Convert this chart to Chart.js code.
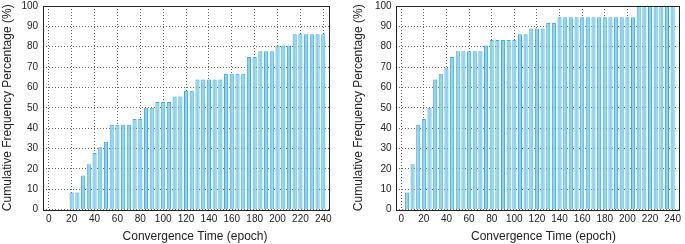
<!DOCTYPE html>
<html>
<head>
<meta charset="utf-8">
<script src="https://cdn.jsdelivr.net/npm/chart.js@4.4.1/dist/chart.umd.min.js"></script>
<style>
  html, body { margin: 0; padding: 0; background: #fff; }
  #wrap { position: relative; width: 685px; height: 244px; }
  .box { position: absolute; top: 0; height: 244px; }
  #b1 { left: 0; width: 340px; }
  #b2 { left: 340px; width: 345px; }
</style>
</head>
<body>
<div id="wrap">
  <div class="box" id="b1"><canvas id="c1"></canvas></div>
  <div class="box" id="b2"><canvas id="c2"></canvas></div>
</div>
<script>
// Left panel: convergence epochs and cumulative frequency (%)
const leftEpochs = [20,25,30,35,40,45,50,55,60,65,70,75,80,85,90,95,100,105,110,115,120,125,130,135,140,145,150,155,160,165,170,175,180,185,190,195,200,205,210,215,220,225,230,235,240];
const leftValues = [8.33,8.33,16.67,22.22,27.78,30.56,33.33,41.67,41.67,41.67,41.67,44.44,44.44,50,50,52.78,52.78,52.78,55.56,55.56,58.33,58.33,63.89,63.89,63.89,63.89,63.89,66.67,66.67,66.67,66.67,75,75,77.78,77.78,77.78,80.56,80.56,80.56,86.11,86.11,86.11,86.11,86.11,86.11];

// Right panel
const rightEpochs = [5,10,15,20,25,30,35,40,45,50,55,60,65,70,75,80,85,90,95,100,105,110,115,120,125,130,135,140,145,150,155,160,165,170,175,180,185,190,195,200,205,210,215,220,225,230,235,240];
const rightValues = [8.33,22.22,41.67,44.44,50,63.89,66.67,69.44,75,77.78,77.78,77.78,77.78,77.78,80.56,83.33,83.33,83.33,83.33,83.33,86.11,86.11,88.89,88.89,88.89,91.67,91.67,94.44,94.44,94.44,94.44,94.44,94.44,94.44,94.44,94.44,94.44,94.44,94.44,94.44,94.44,100,100,100,100,100,100,100];

const xTickValues = [0,20,40,60,80,100,120,140,160,180,200,220,240];
const xTitle = 'Convergence Time (epoch)';
const yTitle = 'Cumulative Frequency Percentage (%)';

const FONT = '"Liberation Sans", Arial, Helvetica, sans-serif';

const framePlugin = {
  id: 'frame',
  afterDatasetsDraw(chart) {
    const a = chart.chartArea, ctx = chart.ctx;
    ctx.save();
    ctx.strokeStyle = '#222';
    ctx.lineWidth = 1;
    ctx.strokeRect(Math.round(a.left) + 0.5, Math.round(a.top) + 0.5,
                   Math.round(a.right - a.left), Math.round(a.bottom - a.top));
    ctx.restore();
  }
};

// x-axis title, drawn slightly right of the plot centre as in the original
const xTitlePlugin = {
  id: 'xTitle',
  afterDraw(chart, args, opts) {
    const a = chart.chartArea, ctx = chart.ctx;
    ctx.save();
    ctx.font = '12px ' + FONT;
    ctx.fillStyle = '#222';
    ctx.textAlign = 'center';
    ctx.textBaseline = 'middle';
    ctx.fillText(xTitle, (a.left + a.right) / 2 + opts.shift, chart.height - 7.5);
    ctx.restore();
  }
};

function makeChart(id, epochs, values, lay) {
  const data = epochs.map((e, i) => ({ x: e, y: values[i] }));
  const gridOpts = { color: '#666', lineWidth: 1, drawTicks: false };
  return new Chart(document.getElementById(id), {
    type: 'bar',
    data: {
      datasets: [{
        data: data,
        backgroundColor: '#8cd4f0',
        borderColor: '#3eaddc',
        borderWidth: 1,
        barPercentage: 0.72,
        categoryPercentage: 1.0
      }]
    },
    options: {
      responsive: true,
      maintainAspectRatio: false,
      animation: false,
      layout: { padding: { left: lay.left, right: lay.right, top: 6, bottom: 14.5 } },
      plugins: {
        legend: { display: false }, tooltip: { enabled: false },
        xTitle: { shift: lay.shift }
      },
      scales: {
        x: {
          type: 'linear',
          offset: false,
          min: -5, max: 245,
          afterBuildTicks(scale) { scale.ticks = xTickValues.map(v => ({ value: v })); },
          grid: Object.assign({ offset: false }, gridOpts),
          border: { display: false, dash: [1, 2] },
          ticks: {
            font: { family: FONT, size: 10 }, color: '#222', padding: 4,
            maxRotation: 0, autoSkip: false
          },
          title: { display: false }
        },
        y: {
          min: 0, max: 100,
          afterFit(scale) { scale.paddingTop = 0; },
          ticks: {
            stepSize: 10, font: { family: FONT, size: 10 }, color: '#222', padding: lay.tickPad
          },
          grid: gridOpts,
          border: { display: false, dash: [1, 2] },
          title: {
            display: true, text: yTitle,
            font: { family: FONT, size: 12 }, color: '#222',
            padding: { top: 0, bottom: lay.titlePad }
          }
        }
      }
    },
    plugins: [framePlugin, xTitlePlugin]
  });
}

makeChart('c1', leftEpochs, leftValues, { left: 0, right: 11, tickPad: 5, titlePad: 2, shift: 9 });
makeChart('c2', rightEpochs, rightValues, { left: 11, right: 1, tickPad: 4, titlePad: 5.5, shift: 6.5 });
</script>
</body>
</html>
